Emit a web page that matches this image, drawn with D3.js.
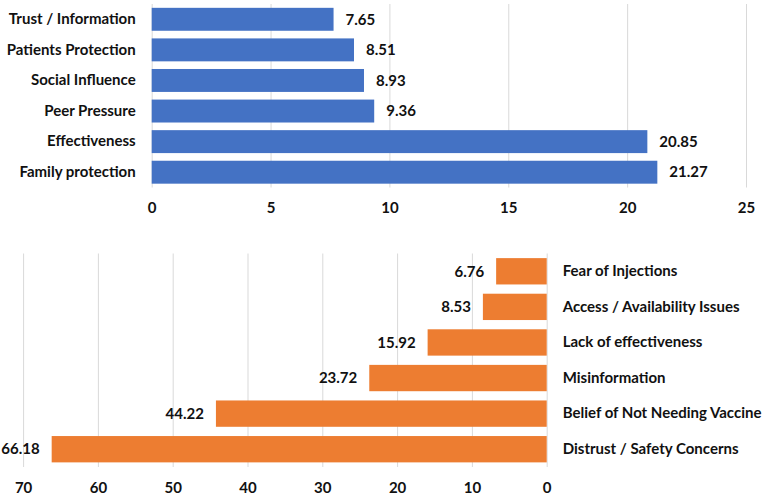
<!DOCTYPE html>
<html>
<head>
<meta charset="utf-8">
<script src="https://cdn.jsdelivr.net/npm/d3@7"></script>
<style>
  body { margin: 0; background: #fff; }
  svg text { font-family: Lato, "Open Sans", sans-serif; font-weight: bold; fill: #111; }
</style>
</head>
<body>
<div id="chart"></div>
<script>
// motivators (top, blue)
const topCategories = ["Trust / Information", "Patients Protection", "Social Influence", "Peer Pressure", "Effectiveness", "Family protection"];
const topValues = [7.65, 8.51, 8.93, 9.36, 20.85, 21.27];
const topTicks = [0, 5, 10, 15, 20, 25];

// barriers (bottom, orange, reversed axis)
const bottomCategories = ["Fear of Injections", "Access / Availability Issues", "Lack of effectiveness", "Misinformation", "Belief of Not Needing Vaccine", "Distrust / Safety Concerns"];
const bottomValues = [6.76, 8.53, 15.92, 23.72, 44.22, 66.18];
const bottomTicks = [70, 60, 50, 40, 30, 20, 10, 0];

const width = 767, height = 499;
const fontSize = 15;

const svg = d3.select("#chart").append("svg")
  .attr("width", width)
  .attr("height", height);

function drawPanel(cfg) {
  const g = svg.append("g");
  const x = d3.scaleLinear().domain(cfg.domain).range(cfg.xRange);
  const y = d3.scaleBand().domain(cfg.categories).range(cfg.yRange)
    .paddingInner(cfg.pad).paddingOuter(cfg.pad / 2);
  const y0 = cfg.yRange[0], y1 = cfg.yRange[1];

  // gridlines
  g.append("g")
    .attr("transform", `translate(0,${y1})`)
    .call(d3.axisBottom(x).tickValues(cfg.ticks).tickSize(-(y1 - y0)).tickFormat(""))
    .call(a => a.select(".domain").remove())
    .call(a => a.selectAll("line").attr("stroke", "#d9d9d9").attr("stroke-width", 1));

  // x tick labels
  g.append("g")
    .attr("transform", `translate(0,${y1})`)
    .call(d3.axisBottom(x).tickValues(cfg.ticks).tickSize(0).tickPadding(cfg.tickPad))
    .call(a => a.select(".domain").remove())
    .call(a => a.selectAll("text").style("font-size", fontSize + "px").attr("fill", "#111"));

  // bars
  g.selectAll("rect.bar")
    .data(cfg.values)
    .enter().append("rect")
    .attr("class", "bar")
    .attr("x", d => Math.min(x(0), x(d)))
    .attr("width", d => Math.abs(x(d) - x(0)))
    .attr("y", (d, i) => y(cfg.categories[i]))
    .attr("height", y.bandwidth())
    .attr("fill", cfg.color);

  // value labels
  g.selectAll("text.val")
    .data(cfg.values)
    .enter().append("text")
    .attr("class", "val")
    .attr("x", d => x(d) + cfg.labelDir * 12)
    .attr("y", (d, i) => y(cfg.categories[i]) + y.bandwidth() / 2)
    .attr("dy", "0.35em")
    .attr("text-anchor", cfg.labelDir > 0 ? "start" : "end")
    .style("font-size", fontSize + "px")
    .text(d => d.toFixed(2));

  // category labels
  const catAxis = cfg.catSide === "left" ? d3.axisLeft(y) : d3.axisRight(y);
  g.append("g")
    .attr("transform", `translate(${x(0)},0)`)
    .call(catAxis.tickSize(0).tickPadding(16))
    .call(a => a.select(".domain").remove())
    .call(a => a.selectAll("text").style("font-size", fontSize + "px").attr("fill", "#111"));
}

drawPanel({
  categories: topCategories,
  values: topValues,
  ticks: topTicks,
  domain: [0, 25],
  xRange: [151.7, 746],
  yRange: [4, 187.5],
  pad: 0.25,
  tickPad: 15,
  color: "#4472C4",
  labelDir: 1,
  catSide: "left"
});

drawPanel({
  categories: bottomCategories,
  values: bottomValues,
  ticks: bottomTicks,
  domain: [0, 70],
  xRange: [546.7, 23.1],
  yRange: [253.5, 467],
  pad: 0.26,
  tickPad: 15,
  color: "#ED7D31",
  labelDir: -1,
  catSide: "right"
});
</script>
</body>
</html>
